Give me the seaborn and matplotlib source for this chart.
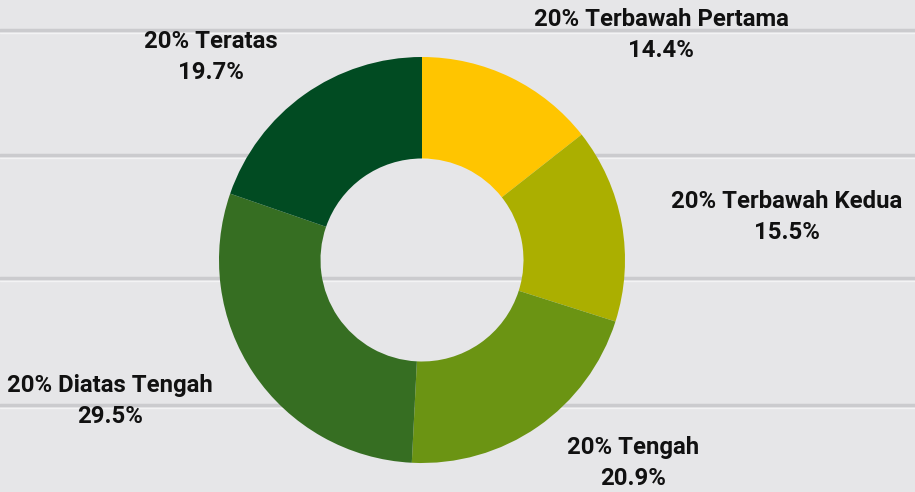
import matplotlib
matplotlib.use("Agg")
import matplotlib.pyplot as plt
import seaborn as sns

# data (clockwise from 12 o'clock)
groups = ["20% Terbawah Pertama", "20% Terbawah Kedua", "20% Tengah",
          "20% Diatas Tengah", "20% Teratas"]
shares = [14.4, 15.5, 20.9, 29.5, 19.7]
colors = ["#FFC500", "#ABAF00", "#6B9413", "#366E22", "#014B22"]

# label anchor points in pixels (centre of the two-line label)
label_px = [(661, 35), (787, 217), (633, 463), (110, 401), (211, 57)]

W, H = 915, 492
CX, CY, R = 422, 260, 203
BG = "#e6e6e8"

sns.set_theme(style="white")
plt.rcParams["font.family"] = ["Roboto", "DejaVu Sans"]

fig = plt.figure(figsize=(W / 100, H / 100), dpi=100, facecolor=BG)
ax = fig.add_axes([0, 0, 1, 1], facecolor=BG)

def to_data(px, py):
    return (px - CX) / R, (CY - py) / R

# plank lines of the wooden background
for py in [30, 155, 278, 405]:
    ax.axhline(to_data(0, py)[1], color="#cbcbce", lw=2.5, zorder=0)
    ax.axhline(to_data(0, py + 3)[1], color="#f3f3f4", lw=1.0, zorder=0)

ax.pie(shares, colors=colors, startangle=90, counterclock=False,
       radius=1, wedgeprops=dict(width=0.5, edgecolor="none"))

for name, val, (px, py) in zip(groups, shares, label_px):
    x, y = to_data(px, py)
    ax.text(x, y, f"{name}\n{val:.1f}%", ha="center", va="center",
            fontsize=17.2, fontweight="bold", color="#111111", linespacing=1.45)

ax.set_aspect("auto")
ax.set_xlim(-CX / R, (W - CX) / R)
ax.set_ylim(-(H - CY) / R, CY / R)
ax.axis("off")

fig.savefig("out.png", dpi=100, facecolor=BG)
